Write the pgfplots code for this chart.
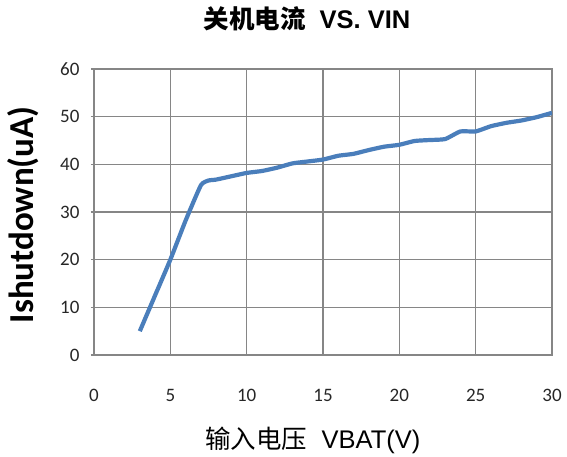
\documentclass[border=0pt]{standalone}
\usepackage{pgfplots}
\pgfplotsset{compat=1.18}
\usepackage{fontspec}
\setmainfont{Liberation Sans}
\newfontfamily\cjk{Noto Sans CJK SC}
\newfontfamily\carlito{Carlito}
\definecolor{gridgray}{RGB}{134,134,134}
\definecolor{lineblue}{RGB}{74,126,187}
\begin{document}
\begin{tikzpicture}[x=1pt,y=1pt]
\useasboundingbox (0,0) rectangle (567,457);
\begin{axis}[
  at={(94pt,102pt)}, anchor=south west,
  scale only axis, width=458pt, height=286pt,
  xmin=0, xmax=30, ymin=0, ymax=60,
  xtick={0,5,...,30}, ytick={0,10,...,60},
  clip mode=individual,
  grid=major,
  grid style={gridgray, line width=1.3pt},
  axis line style={gridgray, line width=1.3pt},
  major tick length=3pt,
  tick style={gridgray, line width=1.2pt},
  xtick style={draw=none},
  tick align=outside,
  ytick pos=left,
  /pgf/number format/assume math mode=true,
  ticklabel style={font=\carlito\fontsize{19}{23}\selectfont, text=black!85},
  xticklabel style={yshift=-28pt},
  yticklabel style={xshift=-8pt},
  title={\fontsize{25.5}{30}\selectfont{\cjk\bfseries 关机电流}\ \ \bfseries VS. VIN},
  title style={at={(axis description cs:0.465,1.154)}, anchor=center},
  xlabel={\fontsize{25.5}{30}\selectfont{\cjk 输入电压}\ \ VBAT(V)},
  xlabel style={at={(axis description cs:0.478,-0.297)}, anchor=center},
  ylabel={\carlito\bfseries\fontsize{35}{40}\selectfont Ishutdown(uA)},
  ylabel style={at={(axis description cs:-0.155,0.49)}, anchor=center, rotate=0},
]
\addplot[lineblue, line width=4.2pt, smooth, tension=0.3] coordinates {
(3,5) (4,12.5) (5,20) (6,28.2) (7,35.6) (7.5,36.6) (8,36.8) (9,37.5) (10,38.2)
(11,38.6) (12,39.3) (13,40.2) (14,40.6) (15,41.0) (16,41.8) (17,42.2) (18,43.0)
(19,43.7) (20,44.1) (21,44.9) (22,45.1) (23,45.3) (24,46.9) (25,46.9) (26,48.0)
(27,48.7) (28,49.2) (29,49.9) (30,50.8)
};
\end{axis}
\end{tikzpicture}
\end{document}
